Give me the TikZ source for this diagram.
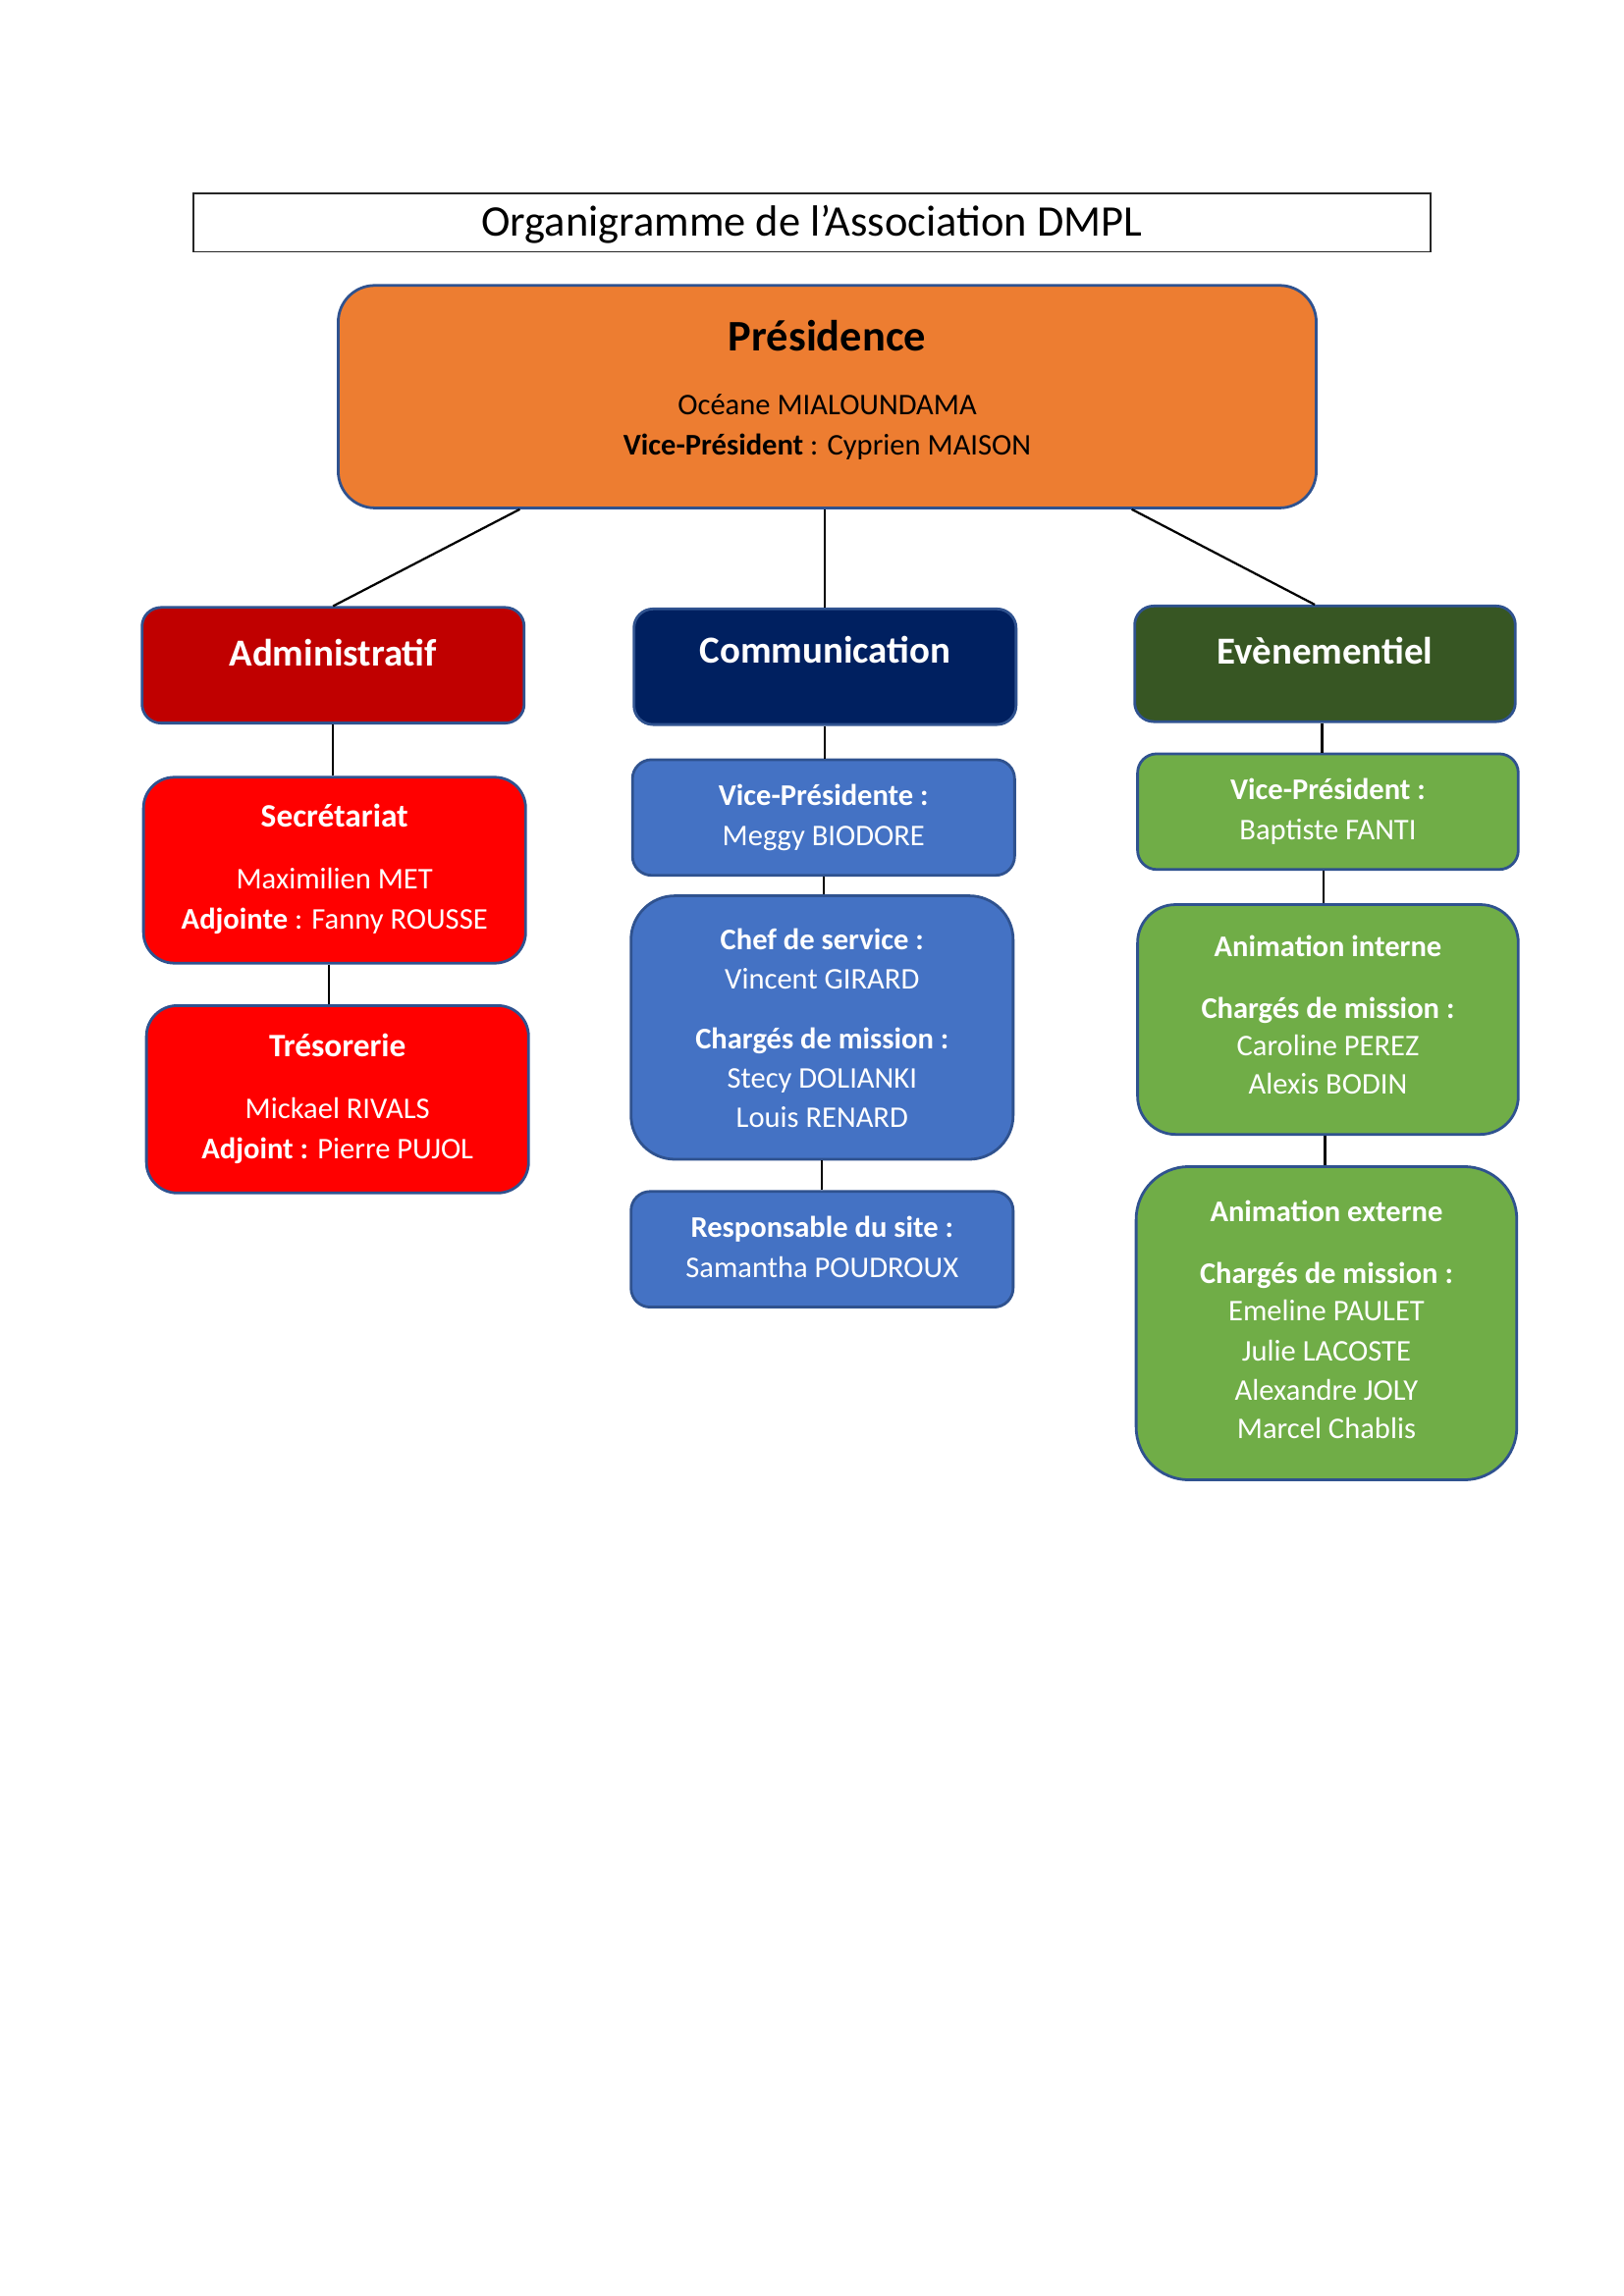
\documentclass[tikz,border=0pt]{standalone}
\usepackage{fontspec}
\setmainfont{Carlito}
\usetikzlibrary{calc}
\definecolor{presorange}{HTML}{ED7D31}
\definecolor{edgeblue}{HTML}{2F528F}
\definecolor{admred}{HTML}{C00000}
\definecolor{boxred}{HTML}{FF0000}
\definecolor{comnavy}{HTML}{002060}
\definecolor{boxblue}{HTML}{4472C4}
\definecolor{evtgreen}{HTML}{375623}
\definecolor{boxgreen}{HTML}{70AD47}
\newcommand\myxi{\fontsize{11}{13}\selectfont}
\newcommand\myxii{\fontsize{12}{14}\selectfont}
\newcommand\myxiv{\fontsize{14}{17}\selectfont}
\newcommand\myxvi{\fontsize{16}{19}\selectfont}
\newcommand\unitpt{0.5367pt}
\tikzset{
  orgbox/.style={draw=edgeblue, line width=1pt, inner sep=0pt},
  bx/.style n args={3}{minimum width=#1*\unitpt, minimum height=#2*\unitpt, rounded corners=#3*\unitpt},
  txt/.style={anchor=base, inner sep=0pt, text=white, font=\myxi},
  link/.style={draw=black, line width=0.8pt}
}
\begin{document}
\begin{tikzpicture}[x=\unitpt, y=-\unitpt]
\useasboundingbox (0,0) rectangle (1109.1,1568.6);
% title
\node[draw=black!85, line width=0.6pt, minimum width=845*\unitpt, minimum height=40*\unitpt, inner sep=0pt] (title) at (554.5,152) {};
\node[anchor=base, inner sep=0pt, font=\myxvi] (ttitle) at (554.5,161.5) {Organigramme de l’Association DMPL};
% boxes
\node[orgbox, fill=presorange, bx={668}{152}{25}] (pres) at (565,271) {};
\node[orgbox, fill=admred, bx={261}{79}{13}] (adm) at (227.5,454.5) {};
\node[orgbox, fill=comnavy, bx={261}{79}{13}] (com) at (563.5,455.5) {};
\node[orgbox, fill=evtgreen, bx={260}{79}{13}] (evt) at (905,453.5) {};
\node[orgbox, fill=boxred, bx={261}{127}{21}] (sec) at (228.5,594.5) {};
\node[orgbox, fill=boxred, bx={261}{128}{21}] (tre) at (230.5,751) {};
\node[orgbox, fill=boxblue, bx={261}{79}{13}] (vpa) at (562.5,558.5) {};
\node[orgbox, fill=boxblue, bx={261}{180}{30}] (chef) at (561.5,702) {};
\node[orgbox, fill=boxblue, bx={261}{79}{13}] (resp) at (561.5,853.5) {};
\node[orgbox, fill=boxgreen, bx={260}{79}{13}] (vpb) at (907,554.5) {};
\node[orgbox, fill=boxgreen, bx={260}{157}{26}] (ai) at (907,696.5) {};
\node[orgbox, fill=boxgreen, bx={260}{214}{36}] (ae) at (906,904) {};
% connectors
\draw[link] ($(pres.south)+(-210,0)$) -- (adm.north);
\draw[link] (pres.south -| com.north) -- (com.north);
\draw[link] ($(pres.south)+(208,0)$) -- ($(evt.north)+(-7,0)$);
\draw[link] (adm.south) -- (adm.south |- sec.north);
\draw[link] ($(sec.south)+(-4,0)$) -- ($(sec.south |- tre.north)+(-4,0)$);
\draw[link] (com.south) -- (com.south |- vpa.north);
\draw[link] (vpa.south) -- (vpa.south |- chef.north);
\draw[link] (chef.south) -- (chef.south |- resp.north);
\draw[link] ($(evt.south)+(-2,0)$) -- ($(evt.south |- vpb.north)+(-2,0)$);
\draw[link] ($(vpb.south)+(-3,0)$) -- ($(vpb.south |- ai.north)+(-3,0)$);
\draw[link] ($(ai.south)+(-2,0)$) -- ($(ai.south |- ae.north)+(-2,0)$);
% texts presidence
\node[txt, text=black, font=\myxvi\bfseries] (tp1) at (565,239.5) {Présidence};
\node[txt, text=black] (tp2) at (565,283.5) {Océane MIALOUNDAMA};
\node[txt, text=black] (tp3) at (565,310.5) {\textbf{Vice-Président} : Cyprien MAISON};
% headers
\node[txt, font=\myxiv\bfseries] (tadm) at (227.5,455) {Administratif};
\node[txt, font=\myxiv\bfseries] (tcom) at (563.5,453) {Communication};
\node[txt, font=\myxiv\bfseries] (tevt) at (905,454) {Evènementiel};
% administratif
\node[txt, font=\myxii\bfseries] (ts1) at (228.5,565) {Secrétariat};
\node[txt] (ts2) at (228.5,607.5) {Maximilien MET};
\node[txt] (ts3) at (228.5,634.5) {\textbf{Adjointe} : Fanny ROUSSE};
\node[txt, font=\myxii\bfseries] (tt1) at (230.5,722) {Trésorerie};
\node[txt] (tt2) at (230.5,764.5) {Mickael RIVALS};
\node[txt] (tt3) at (230.5,791.5) {\textbf{Adjoint :} Pierre PUJOL};
% communication
\node[txt, font=\myxi\bfseries] (tv1) at (562.5,550.5) {Vice-Présidente :};
\node[txt] (tv2) at (562.5,577.5) {Meggy BIODORE};
\node[txt, font=\myxi\bfseries] (tc1) at (561.5,648.5) {Chef de service :};
\node[txt] (tc2) at (561.5,675.5) {Vincent GIRARD};
\node[txt, font=\myxi\bfseries] (tc3) at (561.5,716.5) {Chargés de mission :};
\node[txt] (tc4) at (561.5,743.5) {Stecy DOLIANKI};
\node[txt] (tc5) at (561.5,770.5) {Louis RENARD};
\node[txt, font=\myxi\bfseries] (tr1) at (561.5,845.5) {Responsable du site :};
\node[txt] (tr2) at (561.5,872.5) {Samantha POUDROUX};
% evenementiel
\node[txt, font=\myxi\bfseries] (tw1) at (907,546.5) {Vice-Président :};
\node[txt] (tw2) at (907,573.5) {Baptiste FANTI};
\node[txt, font=\myxi\bfseries] (ti1) at (907,653.5) {Animation interne};
\node[txt, font=\myxi\bfseries] (ti2) at (907,695.5) {Chargés de mission :};
\node[txt] (ti3) at (907,721.5) {Caroline PEREZ};
\node[txt] (ti4) at (907,747.5) {Alexis BODIN};
\node[txt, font=\myxi\bfseries] (te1) at (906,834.5) {Animation externe};
\node[txt, font=\myxi\bfseries] (te2) at (906,876.5) {Chargés de mission :};
\node[txt] (te3) at (906,902.5) {Emeline PAULET};
\node[txt] (te4) at (906,929.5) {Julie LACOSTE};
\node[txt] (te5) at (906,956.5) {Alexandre JOLY};
\node[txt] (te6) at (906,982.5) {Marcel Chablis};
\end{tikzpicture}
\end{document}
